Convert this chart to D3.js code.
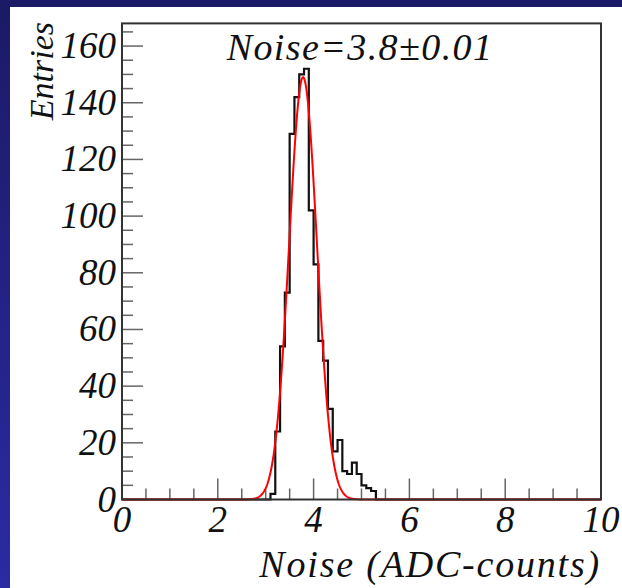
<html>
<head>
<script src="https://d3js.org/d3.v7.min.js"></script>
<style>
    body { margin: 0; }
    .lbl { font-family: "Liberation Serif", "DejaVu Serif", serif; font-style: italic; fill: #111; }
    .frame { fill: none; stroke: #333; stroke-width: 2px; }
    .tick { stroke: #666; stroke-width: 1.5px; }
    .hist { fill: none; stroke: #111; stroke-width: 2.2px; }
    .fit { fill: none; stroke: #f00; stroke-width: 2px; }
</style>
</head>
<body>
<svg id="chart" width="622" height="588"></svg>
<script>
    // histogram bins (lower edge, width 0.1) and counts
    const binLow = [3.0, 3.1, 3.2, 3.3, 3.4, 3.5, 3.6, 3.7, 3.8, 3.9, 4.0, 4.1,
                    4.2, 4.3, 4.4, 4.5, 4.6, 4.7, 4.8, 4.9, 5.0, 5.1, 5.2];
    const entries = [0, 2, 24, 54, 73, 129, 142, 150, 152, 102, 83, 56,
                     49, 32, 17, 21, 10, 9, 13, 9, 5, 4, 3];
    const binWidth = 0.1;

    // gaussian fit result
    const fitAmp = 149, fitMean = 3.78, fitSigma = 0.29;

    const xTicks = [0, 2, 4, 6, 8, 10];
    const yTicks = [0, 20, 40, 60, 80, 100, 120, 140, 160];

    const svg = d3.select("#chart");
    const W = 622, H = 588;

    // slide background
    const grad = svg.append("defs").append("linearGradient")
        .attr("id", "bg").attr("x1", 0).attr("y1", 0).attr("x2", 0).attr("y2", 1);
    grad.append("stop").attr("offset", "0%").attr("stop-color", "#1b1a66");
    grad.append("stop").attr("offset", "100%").attr("stop-color", "#2b2ba3");
    svg.append("rect").attr("width", W).attr("height", H).attr("fill", "url(#bg)");
    svg.append("rect").attr("x", 10).attr("y", 7).attr("width", W - 10).attr("height", H - 7).attr("fill", "#fff");

    const x = d3.scaleLinear().domain([0, 10]).range([122, 601]);
    const y = d3.scaleLinear().domain([0, 168]).range([499.5, 23.4]);

    // ticks
    const xMinor = d3.range(0, 10.001, 0.5);
    svg.selectAll("line.xt").data(xMinor).join("line")
        .attr("class", "tick")
        .attr("x1", d => x(d)).attr("x2", d => x(d))
        .attr("y1", y(0)).attr("y2", d => y(0) - (xTicks.includes(d) ? 21 : 11));
    const yMinor = d3.range(0, 168, 5);
    svg.selectAll("line.yt").data(yMinor).join("line")
        .attr("class", "tick")
        .attr("y1", d => y(d)).attr("y2", d => y(d))
        .attr("x1", x(0)).attr("x2", d => x(0) + (yTicks.includes(d) ? 21 : 11));

    // histogram as a step line
    const pts = [[0, 0]];
    binLow.forEach((b, i) => pts.push([b, entries[i]]));
    pts.push([binLow[binLow.length - 1] + binWidth, 0], [10, 0]);
    const step = d3.line().x(d => x(d[0])).y(d => y(d[1])).curve(d3.curveStepAfter);
    svg.append("path").datum(pts).attr("class", "hist").attr("d", step);

    // fit curve
    const fitPts = d3.range(0, 10.0001, 0.01)
        .map(v => [v, fitAmp * Math.exp(-0.5 * Math.pow((v - fitMean) / fitSigma, 2))]);
    const line = d3.line().x(d => x(d[0])).y(d => y(d[1]));
    svg.append("path").datum(fitPts).attr("class", "fit").attr("d", line);

    // frame
    svg.append("rect").attr("class", "frame")
        .attr("x", x(0)).attr("y", y(168))
        .attr("width", x(10) - x(0)).attr("height", y(0) - y(168));

    // tick labels
    svg.selectAll("text.xl").data(xTicks).join("text")
        .attr("class", "lbl").attr("font-size", 37)
        .attr("text-anchor", "middle")
        .attr("x", d => x(d)).attr("y", 532)
        .text(d => d);
    svg.selectAll("text.yl").data(yTicks).join("text")
        .attr("class", "lbl").attr("font-size", 37)
        .attr("text-anchor", "end")
        .attr("x", 116).attr("y", d => y(d) + 12)
        .text(d => d);

    // titles
    svg.append("text").attr("class", "lbl").attr("font-size", 34)
        .attr("text-anchor", "end")
        .attr("transform", "translate(53,22) rotate(-90)")
        .text("Entries");
    svg.append("text").attr("class", "lbl").attr("font-size", 38)
        .attr("text-anchor", "end").attr("letter-spacing", 1.8)
        .attr("x", 601).attr("y", 577)
        .text("Noise (ADC-counts)");
    svg.append("text").attr("class", "lbl").attr("font-size", 38)
        .attr("text-anchor", "middle").attr("letter-spacing", 1.4)
        .attr("x", 360).attr("y", 60)
        .text("Noise=3.8\u00b10.01");
</script>
</body>
</html>
